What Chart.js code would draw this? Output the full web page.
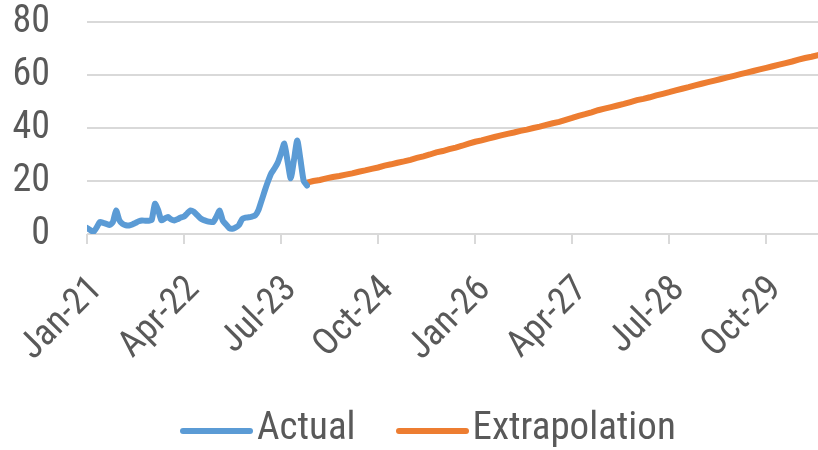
<!DOCTYPE html>
<html>
<head>
<meta charset="utf-8">
<script src="https://cdn.jsdelivr.net/npm/chart.js@4/dist/chart.umd.min.js"></script>
<style>
  html, body { margin: 0; padding: 0; background: #fff; }
  #wrap { position: relative; width: 818px; height: 450px; }
  #legend {
    position: absolute; left: 180px; top: 407px;
    display: flex; align-items: center;
    font-family: 'Roboto Condensed', sans-serif; font-size: 39px; line-height: 39px; color: #595959;
  }
  #legend .item { display: flex; align-items: center; margin-right: 40px; }
  #legend .swatch { width: 73px; height: 6px; border-radius: 3px; margin-right: 4px; position: relative; top: 4px; }
</style>
</head>
<body>
<div id="wrap">
  <canvas id="chart"></canvas>
  <div id="legend"></div>
</div>
<script>
// month index 0 = Jan-21
const tickLabels = ["Jan-21", "Apr-22", "Jul-23", "Oct-24", "Jan-26", "Apr-27", "Jul-28", "Oct-29"];
const tickStep = 15;      // months between labels
const lastMonth = 113;    // right edge of the plot

// Actual, every half month from Jan-21
const actualStep = 0.5;
const actualValues = [
  2.3, 1.5, 0.8, 2.5, 4.5, 4.2, 3.8, 3.4, 4.5, 8.9,
  5.2, 3.8, 3.3, 3.2, 3.6, 4.2, 4.8, 5.1, 5.0, 5.0,
  5.3, 11.4, 9.0, 5.2, 5.8, 6.4, 5.5, 5.1, 5.6, 6.2,
  6.6, 7.8, 8.9, 8.4, 7.2, 6.0, 5.3, 4.9, 4.6, 4.5,
  6.5, 8.8, 5.0, 3.6, 2.2, 2.0, 2.5, 3.4, 5.7, 6.2,
  6.3, 6.6, 7.0, 9.0, 12.7, 16.5, 20.0, 23.0, 24.8, 27.0,
  30.5, 34.1, 27.5, 21.0, 28.0, 35.3, 28.0, 20.0, 18.3
];

// Extrapolation, monthly from month 34
const extraStart = 34;
const extraValues = [
  19.4, 20.0, 20.4, 21.0, 21.5, 21.9, 22.4, 22.9, 23.5, 24.0,
  24.6, 25.1, 25.8, 26.3, 26.9, 27.4, 28.0, 28.7, 29.3, 30.0,
  30.8, 31.3, 32.0, 32.6, 33.3, 34.1, 34.8, 35.3, 36.0, 36.6,
  37.2, 37.8, 38.3, 38.9, 39.4, 40.0, 40.5, 41.2, 41.8, 42.3,
  43.1, 43.8, 44.6, 45.2, 45.9, 46.7, 47.3, 47.9, 48.5, 49.1,
  49.8, 50.5, 51.0, 51.6, 52.3, 52.9, 53.5, 54.2, 54.8, 55.4,
  56.1, 56.7, 57.3, 57.9, 58.5, 59.1, 59.7, 60.3, 60.9, 61.5,
  62.1, 62.7, 63.3, 63.9, 64.5, 65.1, 65.8, 66.4, 66.9, 67.5
];

const FONT = "'Roboto Condensed', sans-serif";
const GREY = "#595959";
const GRID = "#d9d9d9";

const actualData = actualValues.map((v, i) => ({ x: i * actualStep, y: v }));
const extraData = extraValues.map((v, i) => ({ x: extraStart + i, y: v }));

const chart = new Chart(document.getElementById("chart"), {
  type: "line",
  data: {
    datasets: [
      {
        label: "Actual",
        data: actualData,
        borderColor: "#5b9bd5",
        borderWidth: 6,
        pointRadius: 0,
        tension: 0.2,
        borderJoinStyle: "round",
        borderCapStyle: "round"
      },
      {
        label: "Extrapolation",
        data: extraData,
        borderColor: "#ed7d31",
        borderWidth: 6,
        pointRadius: 0,
        borderCapStyle: "round"
      }
    ]
  },
  options: {
    responsive: true,
    maintainAspectRatio: false,
    animation: false,
    layout: { padding: { top: 22, right: 0, left: 0, bottom: 0 } },
    plugins: {
      tooltip: { enabled: false },
      legend: { display: false }
    },
    scales: {
      x: {
        type: "linear",
        min: 0,
        max: lastMonth,
        border: { display: false },
        grid: { drawOnChartArea: false, drawTicks: true, tickLength: 10, color: GRID, lineWidth: 2 },
        ticks: {
          stepSize: tickStep,
          includeBounds: false,
          autoSkip: false,
          minRotation: 45,
          maxRotation: 45,
          color: GREY,
          font: { family: FONT, size: 37 },
          padding: 24,
          labelOffset: 10,
          callback: v => tickLabels[v / tickStep]
        },
        afterFit: s => {
          s.height = 216;
          s.paddingLeft = 0;
          s.paddingRight = 0;
        }
      },
      y: {
        min: 0,
        max: 80,
        border: { display: false },
        grid: { color: GRID, lineWidth: 2, drawTicks: false },
        ticks: {
          stepSize: 20,
          autoSkip: false,
          color: GREY,
          font: { family: FONT, size: 38 },
          padding: 37
        },
        afterFit: s => {
          s.width = 87;
          s.paddingTop = 0;
          s.paddingBottom = 0;
        }
      }
    }
  }
});

// html legend built from the datasets
const legend = document.getElementById("legend");
chart.data.datasets.forEach(ds => {
  const item = document.createElement("div");
  item.className = "item";
  const sw = document.createElement("span");
  sw.className = "swatch";
  sw.style.background = ds.borderColor;
  const txt = document.createElement("span");
  txt.textContent = ds.label;
  item.appendChild(sw);
  item.appendChild(txt);
  legend.appendChild(item);
});
</script>
</body>
</html>
